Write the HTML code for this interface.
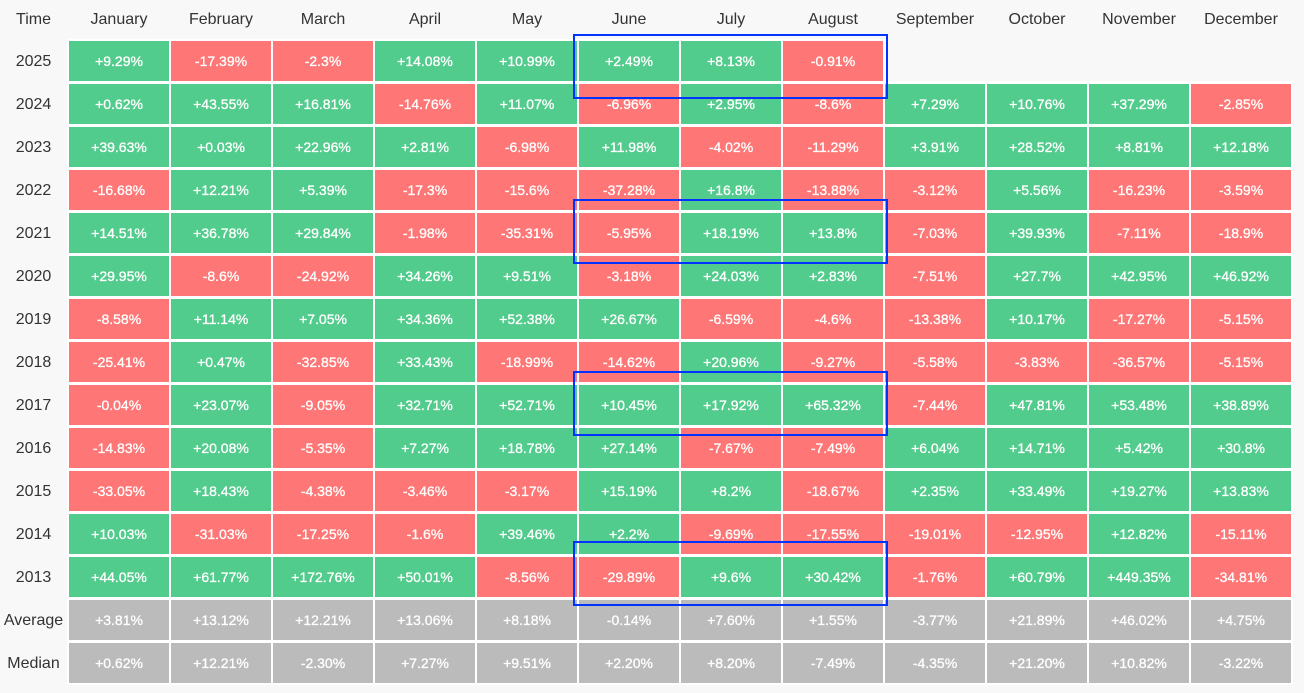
<!DOCTYPE html>
<html><head><meta charset="utf-8"><style>
body{margin:0;width:1304px;height:693px;background:#f8f8f8;font-family:"Liberation Sans",sans-serif;position:relative;overflow:hidden}
.g{position:absolute;left:0;top:0;display:grid;grid-template-columns:67px repeat(12,100px);grid-template-rows:38px repeat(15,40px);column-gap:2px;row-gap:3px}
.g div{display:flex;align-items:center;justify-content:center;font-size:14px;color:#fff;-webkit-text-stroke:0.3px #fff}
.g .h{color:#333;font-size:16px;-webkit-text-stroke:0;padding-top:1px}
.p{background:#52cc8c}.n{background:#ff7676}.a{background:#bbbbbb}.e{background:transparent}
.wb{position:absolute;background:#fff}
.b{position:absolute;left:573px;width:315px;border:2px solid #0033ff;box-sizing:border-box;height:65px}
</style></head><body>
<div class="wb" style="left:67px;top:39px;width:819px;height:45px"></div>
<div class="wb" style="left:67px;top:81px;width:1226px;height:604px"></div>
<div class="g" id="g"></div>
<div class="b" style="top:34px"></div>
<div class="b" style="top:199px"></div>
<div class="b" style="top:371px"></div>
<div class="b" style="top:541px"></div>
<script>
var m=["Time","January","February","March","April","May","June","July","August","September","October","November","December"];
var d=[["2025","+9.29%","-17.39%","-2.3%","+14.08%","+10.99%","+2.49%","+8.13%","-0.91%","","","",""],
["2024","+0.62%","+43.55%","+16.81%","-14.76%","+11.07%","-6.96%","+2.95%","-8.6%","+7.29%","+10.76%","+37.29%","-2.85%"],
["2023","+39.63%","+0.03%","+22.96%","+2.81%","-6.98%","+11.98%","-4.02%","-11.29%","+3.91%","+28.52%","+8.81%","+12.18%"],
["2022","-16.68%","+12.21%","+5.39%","-17.3%","-15.6%","-37.28%","+16.8%","-13.88%","-3.12%","+5.56%","-16.23%","-3.59%"],
["2021","+14.51%","+36.78%","+29.84%","-1.98%","-35.31%","-5.95%","+18.19%","+13.8%","-7.03%","+39.93%","-7.11%","-18.9%"],
["2020","+29.95%","-8.6%","-24.92%","+34.26%","+9.51%","-3.18%","+24.03%","+2.83%","-7.51%","+27.7%","+42.95%","+46.92%"],
["2019","-8.58%","+11.14%","+7.05%","+34.36%","+52.38%","+26.67%","-6.59%","-4.6%","-13.38%","+10.17%","-17.27%","-5.15%"],
["2018","-25.41%","+0.47%","-32.85%","+33.43%","-18.99%","-14.62%","+20.96%","-9.27%","-5.58%","-3.83%","-36.57%","-5.15%"],
["2017","-0.04%","+23.07%","-9.05%","+32.71%","+52.71%","+10.45%","+17.92%","+65.32%","-7.44%","+47.81%","+53.48%","+38.89%"],
["2016","-14.83%","+20.08%","-5.35%","+7.27%","+18.78%","+27.14%","-7.67%","-7.49%","+6.04%","+14.71%","+5.42%","+30.8%"],
["2015","-33.05%","+18.43%","-4.38%","-3.46%","-3.17%","+15.19%","+8.2%","-18.67%","+2.35%","+33.49%","+19.27%","+13.83%"],
["2014","+10.03%","-31.03%","-17.25%","-1.6%","+39.46%","+2.2%","-9.69%","-17.55%","-19.01%","-12.95%","+12.82%","-15.11%"],
["2013","+44.05%","+61.77%","+172.76%","+50.01%","-8.56%","-29.89%","+9.6%","+30.42%","-1.76%","+60.79%","+449.35%","-34.81%"],
["Average","+3.81%","+13.12%","+12.21%","+13.06%","+8.18%","-0.14%","+7.60%","+1.55%","-3.77%","+21.89%","+46.02%","+4.75%"],
["Median","+0.62%","+12.21%","-2.30%","+7.27%","+9.51%","+2.20%","+8.20%","-7.49%","-4.35%","+21.20%","+10.82%","-3.22%"]];
var h="";m.forEach(function(x){h+='<div class="h">'+x+'</div>'});
d.forEach(function(r,i){r.forEach(function(x,j){var c=j==0?"h":(x==""?"e":(i>=13?"a":(x[0]=="+"?"p":"n")));h+='<div class="'+c+'">'+x+'</div>'})});
document.getElementById("g").innerHTML=h;
</script>
</body></html>
